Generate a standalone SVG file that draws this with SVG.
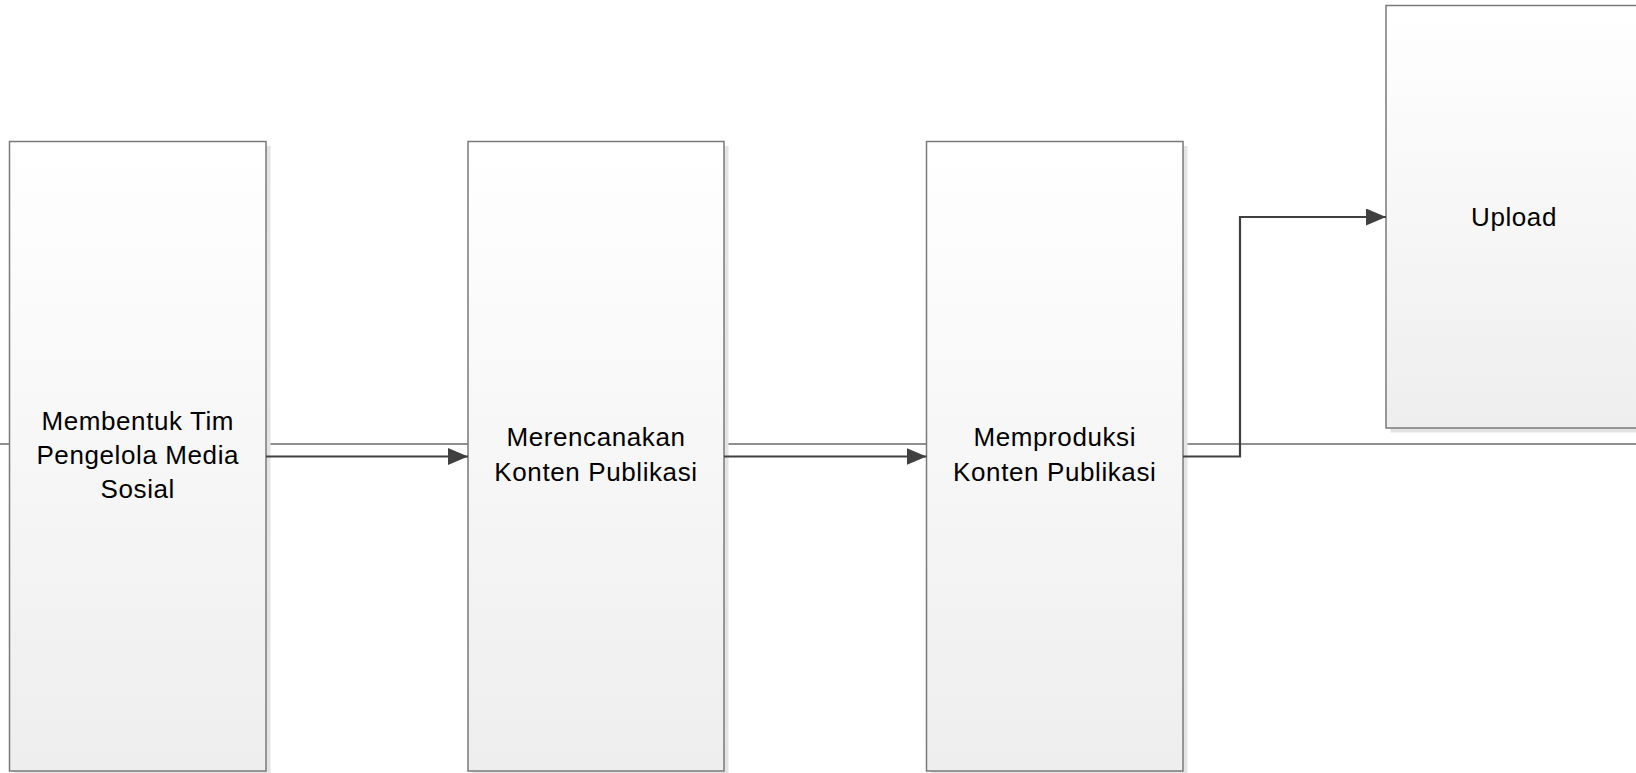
<svg xmlns="http://www.w3.org/2000/svg" width="1636" height="773" viewBox="0 0 1636 773">
<style>
.box{fill:url(#g);stroke:#7a7a7a;stroke-width:1.5}
.sh{fill:#e4e4e4}
.t{font-family:"Liberation Sans",Arial,sans-serif;font-size:26px;letter-spacing:0.6px;fill:#000;text-anchor:middle}
.c{fill:none;stroke:#404040;stroke-width:2.2}
.bg{stroke:#6b6b6b;stroke-width:1.6}
</style>
<defs>
<linearGradient id="g" x1="0" y1="0" x2="0" y2="1">
<stop offset="0" stop-color="#ffffff"/>
<stop offset="1" stop-color="#eeeeee"/>
</linearGradient>
<marker id="a" markerUnits="userSpaceOnUse" markerWidth="21" markerHeight="18" refX="20" refY="8.5" orient="auto">
<path d="M0,0 L20,8.5 L0,17 Z" fill="#404040"/>
</marker>
</defs>
<rect width="1636" height="773" fill="#fff"/>
<line class="bg" x1="0" y1="444" x2="1636" y2="444"/>
<g id="n1">
<rect class="sh" x="14" y="146" width="256.5" height="629.5"/>
<rect class="box" x="9.5" y="141.5" width="256.5" height="629.5"/>
<text class="t" x="137.75" y="430">Membentuk Tim</text>
<text class="t" x="137.75" y="464">Pengelola Media</text>
<text class="t" x="137.75" y="498">Sosial</text>
</g>
<g id="n2">
<rect class="sh" x="472.5" y="146" width="256" height="629.5"/>
<rect class="box" x="468" y="141.5" width="256" height="629.5"/>
<text class="t" x="596" y="446">Merencanakan</text>
<text class="t" x="596" y="481">Konten Publikasi</text>
</g>
<g id="n3">
<rect class="sh" x="931" y="146" width="256.5" height="629.5"/>
<rect class="box" x="926.5" y="141.5" width="256.5" height="629.5"/>
<text class="t" x="1054.75" y="446">Memproduksi</text>
<text class="t" x="1054.75" y="481">Konten Publikasi</text>
</g>
<g id="n4">
<rect class="sh" x="1390.5" y="10" width="256" height="422.5"/>
<rect class="box" x="1386" y="5.5" width="256" height="422.5"/>
<text class="t" x="1514" y="225.5">Upload</text>
</g>
<g id="connectors">
<line class="c" x1="266" y1="456.5" x2="468" y2="456.5" marker-end="url(#a)"/>
<line class="c" x1="724" y1="456.5" x2="926.5" y2="456.5" marker-end="url(#a)"/>
<path class="c" d="M1183,456.5 H1240 V217 H1386" marker-end="url(#a)"/>
</g>
</svg>
